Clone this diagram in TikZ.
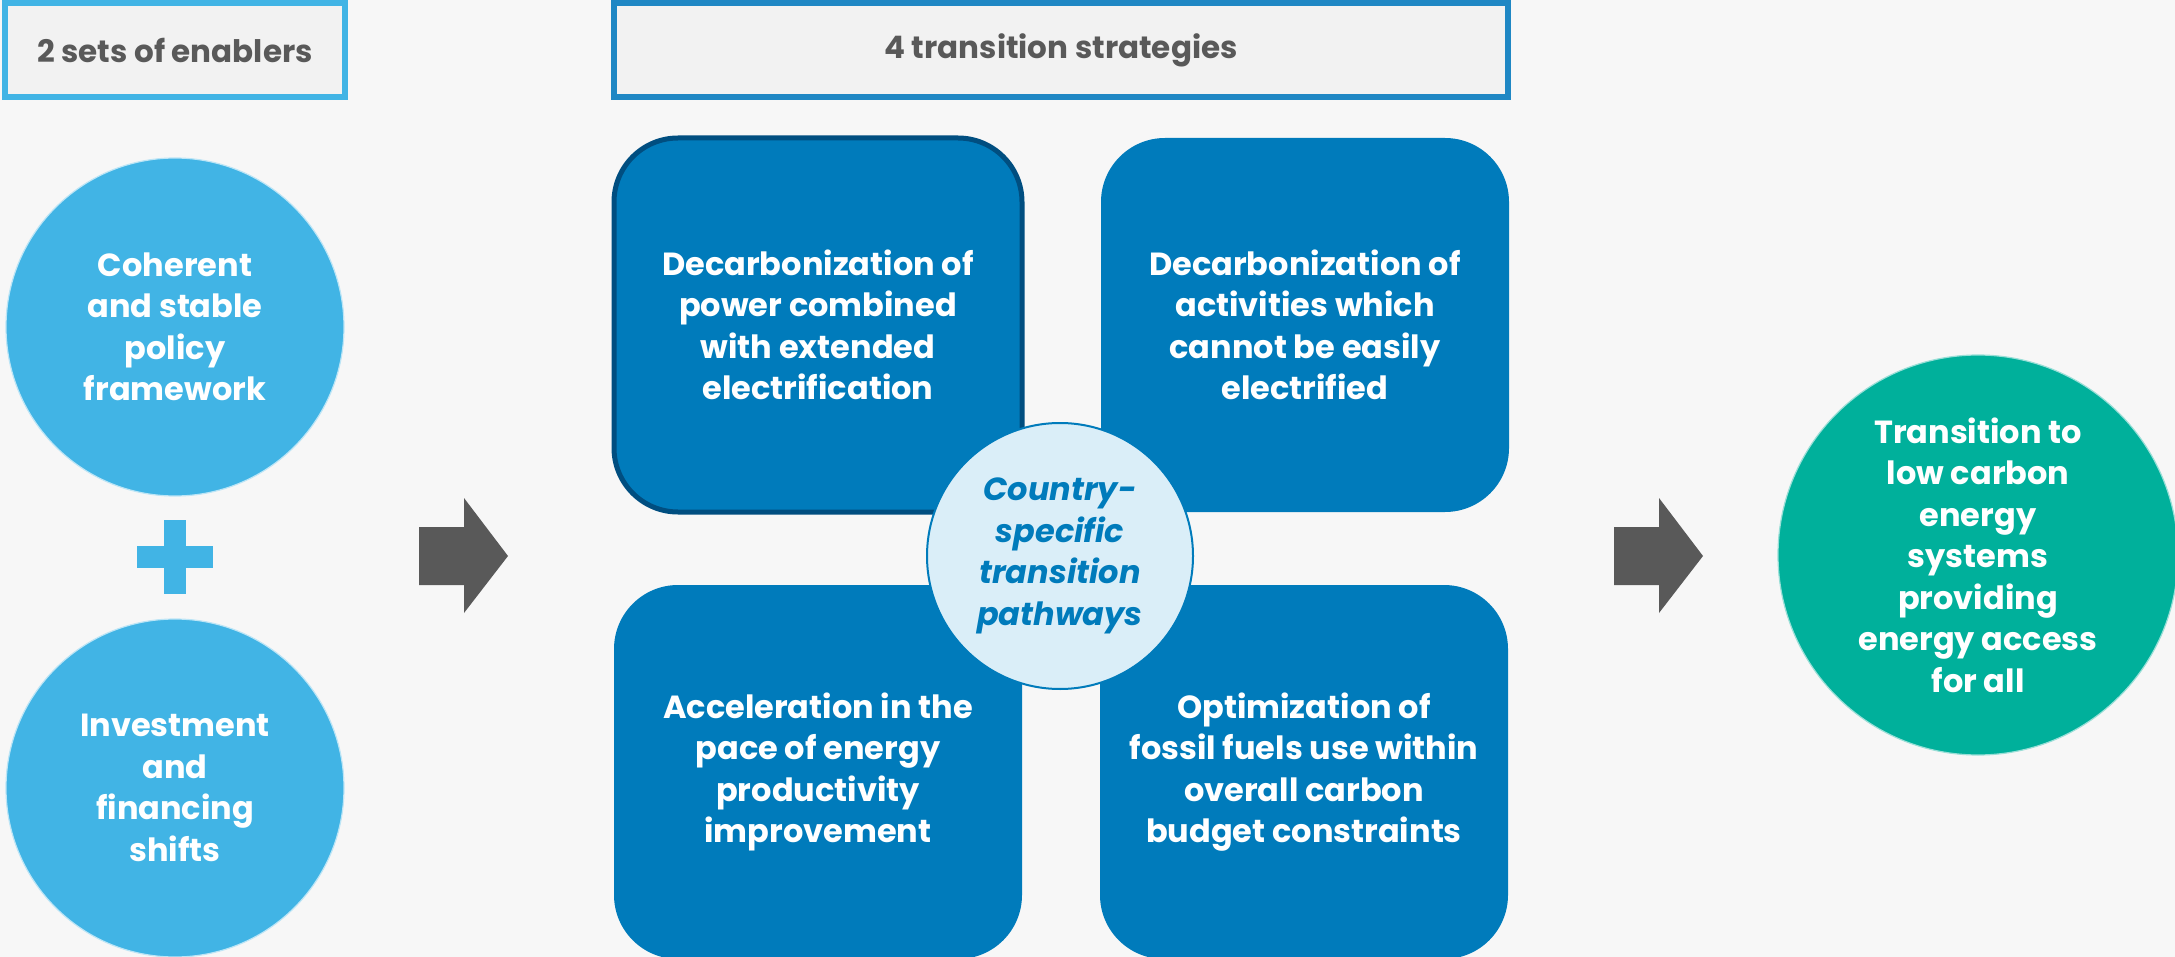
\documentclass[tikz,border=0pt]{standalone}
\usepackage{fontspec}
\setmainfont{Poppins}
\usetikzlibrary{positioning}
\definecolor{pagebg}{HTML}{F7F7F7}
\definecolor{headfill}{HTML}{F2F2F2}
\definecolor{headtext}{HTML}{595959}
\definecolor{enablerblue}{HTML}{41B4E5}
\definecolor{headblue}{HTML}{1F87C4}
\definecolor{stratblue}{HTML}{007BBB}
\definecolor{stratedge}{HTML}{004E80}
\definecolor{pathfill}{HTML}{DAEEF8}
\definecolor{outgreen}{HTML}{00B09B}
\definecolor{arrowgray}{HTML}{595959}
\tikzset{
    header/.style={draw, line width=3pt, fill=headfill, text=headtext, inner sep=0pt,
        minimum height=47pt, font=\fontsize{15.5}{19}\selectfont\bfseries},
    enabler/.style={circle, fill=enablerblue, draw=enablerblue!35!white, line width=0.6pt,
        minimum size=169pt, inner sep=0pt, text=white, align=center,
        font=\fontsize{16}{20.75}\selectfont\bfseries},
    strategy/.style={rounded corners=32pt, fill=stratblue, minimum width=204pt,
        minimum height=187pt, inner sep=0pt, text=white, align=center,
        font=\fontsize{16}{20.75}\selectfont\bfseries},
    pathway/.style={circle, fill=pathfill, draw=stratblue, line width=1pt,
        minimum size=133pt, inner sep=0pt, text=stratblue, align=center,
        font=\fontsize{16}{20.75}\selectfont\bfseries\itshape},
    outcome/.style={circle, fill=outgreen, draw=outgreen!40!white, line width=0.6pt,
        minimum size=200pt, inner sep=0pt, text=white, align=center,
        font=\fontsize{16}{20.75}\selectfont\bfseries},
    blockarrow/.style={fill=arrowgray}
}
\begin{document}
\begin{tikzpicture}[x=0.5pt, y=-0.5pt]
  \useasboundingbox (0,0) rectangle (2175,957);
  \clip (0,0) rectangle (2175,957);
  \fill[pagebg] (0,0) rectangle (2175,957);

  % headers
  \node[header, draw=enablerblue, minimum width=170pt] (enablers) at (175,50) {2 sets of enablers};
  \node[header, draw=headblue, minimum width=447pt] (strategies) at (1061,50) {4 transition strategies};

  % enablers
  \node[enabler] (policy) at (175,327) {Coherent\\and stable\\policy\\framework};
  \node[enabler] (finance) at (175,788) {Investment\\and\\financing\\shifts};
  \fill[enablerblue] (137,546) rectangle (213,568);
  \fill[enablerblue] (164,520) rectangle (186,594);

  % arrows
  \foreach \ax in {419,1614}
    \fill[blockarrow] (\ax,527) -- ++(45,0) -- ++(0,-29) -- ++(44,58)
      -- ++(-44,57) -- ++(0,-28) -- ++(-45,0) -- cycle;

  % strategies
  \node[strategy, draw=stratedge, line width=2.5pt] (power) at (818,325)
    {Decarbonization of\\power combined\\with extended\\electrification};
  \node[strategy] (activities) at (1305,325)
    {Decarbonization of\\activities which\\cannot be easily\\electrified};
  \node[strategy] (productivity) at (818,772)
    {Acceleration in the\\pace of energy\\productivity\\improvement};
  \node[strategy] (fossil) at (1304,772)
    {Optimization of\\fossil fuels use within\\overall carbon\\budget constraints};
  \node[pathway] (pathways) at (1060,556) {Country-\\specific\\transition\\pathways};

  % outcome
  \node[outcome] (lowcarbon) at (1978,555)
    {Transition to\\low carbon\\energy\\systems\\providing\\energy access\\for all};
\end{tikzpicture}
\end{document}
